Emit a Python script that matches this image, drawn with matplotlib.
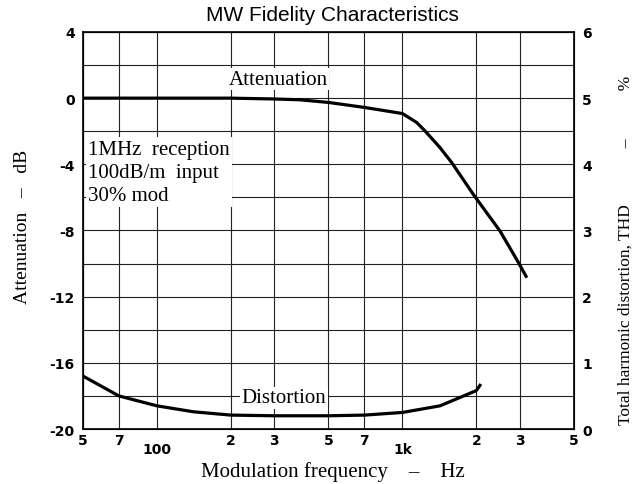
import matplotlib.pyplot as plt

# attenuation (left axis, dB)
freq_att = [50, 100, 200, 300, 383, 500, 700, 1000, 1143, 1236, 1423, 1589, 1945, 2500, 2965, 3190]
att_db = [0.0, 0.0, 0.0, -0.05, -0.1, -0.26, -0.56, -0.93, -1.47, -1.98, -2.99, -3.9, -5.82, -8.04, -9.92, -10.77]

# distortion (right axis, %)
freq_thd = [50, 70, 100, 141, 200, 300, 500, 700, 1000, 1423, 2000, 2070]
thd_pct = [0.80, 0.50, 0.35, 0.26, 0.21, 0.20, 0.20, 0.21, 0.25, 0.35, 0.58, 0.66]

xticks = [50, 70, 100, 200, 300, 500, 700, 1000, 2000, 3000, 5000]
xlabels = ["5", "7", "100", "2", "3", "5", "7", "1k", "2", "3", "5"]

serif = "Liberation Serif"
tickfont = {"family": "DejaVu Sans", "weight": "bold", "size": 10}

fig = plt.figure(figsize=(6.36, 4.85), dpi=100)
ax = fig.add_axes([0.1305, 0.1134, 0.772, 0.8186])
ax2 = ax.twinx()

ax.set_xscale("log")
ax.set_xlim(50, 5000)
ax.set_ylim(-20, 4)
ax2.set_ylim(0, 6)

ax.set_yticks(range(-20, 5, 2))
ax.set_yticklabels([str(v) if v % 4 == 0 else "" for v in range(-20, 5, 2)],
                   fontdict=tickfont)
ax2.set_yticks(range(0, 7))
ax2.set_yticklabels([str(v) for v in range(0, 7)], fontdict=tickfont)
ax.tick_params(axis="both", length=0)
ax.tick_params(axis="y", pad=6)
ax2.tick_params(length=0, pad=6)

ax.set_xticks(xticks)
ax.set_xticklabels(xlabels, fontdict=tickfont)
ax.xaxis.set_minor_locator(plt.NullLocator())
for lab, t in zip(xlabels, ax.xaxis.get_major_ticks()):
    t.set_pad(9 if lab in ("100", "1k") else 3)

ax.grid(True, color="#222222", linewidth=0.8)
ax.set_axisbelow(True)

ax.plot(freq_att, att_db, color="black", linewidth=2.3, zorder=5,
        solid_joinstyle="round")
ax2.plot(freq_thd, thd_pct, color="black", linewidth=2.3, zorder=5,
         solid_joinstyle="round")

ax.text(311, 1.15, "Attenuation", family=serif, fontsize=15, ha="center",
        va="center", bbox=dict(facecolor="white", edgecolor="none", pad=1), zorder=6)
ax.text(330, -18.1, "Distortion", family=serif, fontsize=15, ha="center",
        va="center", bbox=dict(facecolor="white", edgecolor="none", pad=1), zorder=6)
ax.text(52.5, -2.5, "1MHz  reception\n100dB/m  input\n30% mod", family=serif,
        fontsize=15, ha="left", va="top", linespacing=1.3,
        bbox=dict(facecolor="white", edgecolor="none", pad=1.5), zorder=6)

fig.text(0.5236, 0.0165, "Modulation frequency    \u2013    Hz", family=serif,
         fontsize=15, ha="center", va="baseline")
fig.text(0.036, 0.533, "Attenuation   \u2013   dB", family=serif, fontsize=14,
         rotation=90, ha="center", va="center")
fig.text(0.983, 0.484, "Total harmonic distortion, THD" + " " * 13 + "\u2013" + " " * 11 + "%",
         family=serif, fontsize=12.5, rotation=90, ha="center", va="center")
fig.text(0.522, 0.988, "MW Fidelity Characteristics", family="Liberation Sans",
         fontsize=15, ha="center", va="top")

for s in ax.spines.values():
    s.set_linewidth(1.2)

fig.savefig("out.png", dpi=100)
